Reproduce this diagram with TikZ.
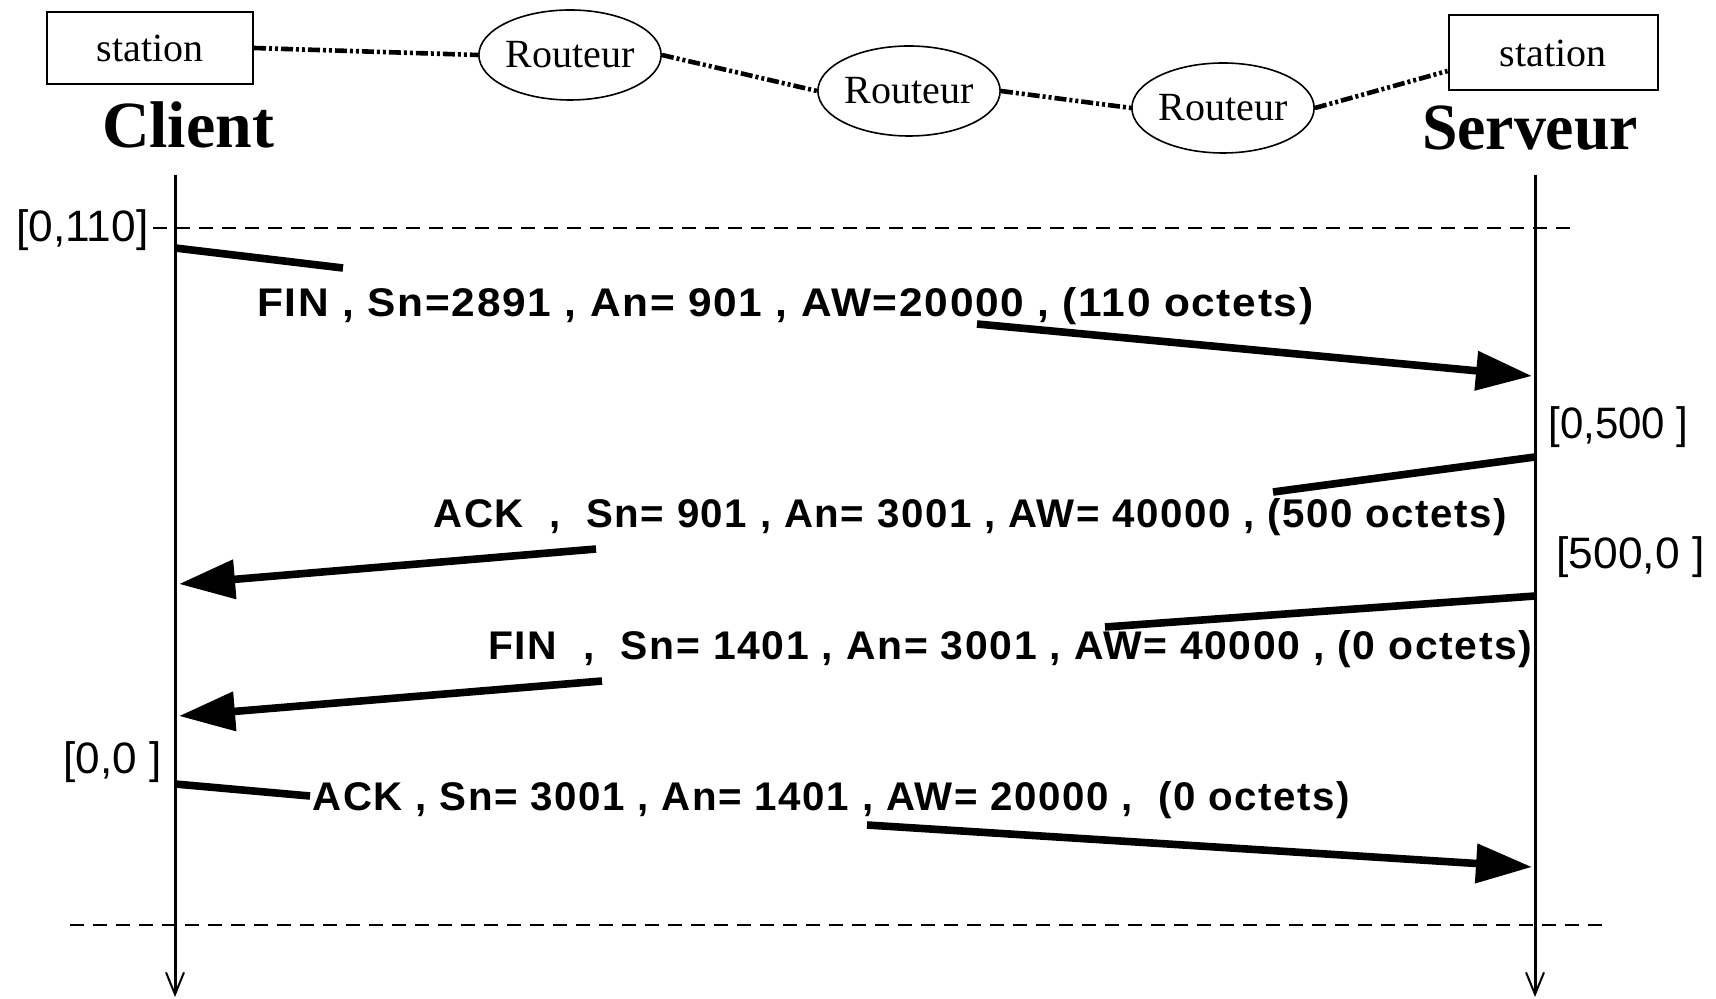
\documentclass[tikz,border=0pt]{standalone}
\usepackage{fontspec}
\usepackage{graphicx}
\setmainfont{Liberation Serif}
\newfontfamily\msgfont[LetterSpace=4]{Liberation Sans}
\newfontfamily\tagfont{Liberation Sans}
\usetikzlibrary{shapes.geometric,arrows.meta,calc}

% set #2 stretched horizontally to a width of #1 pt
\newsavebox\fitbox
\makeatletter
\newcommand\fitw[2]{\sbox\fitbox{#2}%
  \scalebox{\strip@pt\dimexpr 1pt*\number\dimexpr#1pt\relax/\number\wd\fitbox\relax}[1]{\usebox\fitbox}}
\makeatother

\begin{document}
\begin{tikzpicture}[x=0.5pt,y=-0.5pt,
  stationbox/.style={draw,line width=1pt,inner sep=0pt,font=\fontsize{20}{22}\selectfont},
  router/.style={draw,ellipse,line width=0.8pt,inner sep=0pt,minimum width=91pt,minimum height=45pt,font=\fontsize{20}{22}\selectfont},
  party/.style={inner sep=0pt,anchor=base,font=\fontsize{33}{36}\selectfont\bfseries},
  link/.style={line width=2.3pt,dash pattern=on 6pt off 1.5pt on 1.5pt off 1.5pt on 1.5pt off 1.5pt},
  lifeline/.style={line width=1.5pt,-{Straight Barb[length=11pt,width=9pt,line width=1pt]}},
  sepline/.style={line width=1.1pt,dash pattern=on 7pt off 4.5pt},
  msgline/.style={line width=3.8pt},
  msgtip/.style={msgline,-{Triangle[length=28pt,width=19pt]}},
  msglabel/.style={inner sep=0pt,anchor=base west,font=\msgfont\bfseries\fontsize{20}{22}\selectfont},
  tag/.style={inner sep=0pt,anchor=base west,font=\tagfont\fontsize{22}{24}\selectfont}]

\useasboundingbox (0,0) rectangle (1716,999);

% network between the two hosts
\node[stationbox,minimum width=103pt,minimum height=36pt] (stL) at (150,48) {station};
\node[stationbox,minimum width=104.5pt,minimum height=37.5pt] (stR) at (1553,53) {station};
\node[router] (r1) at (570,55) {Routeur};
\node[router] (r2) at (909,91) {Routeur};
\node[router] (r3) at (1223,108) {Routeur};
\draw[link] (stL.east) -- (r1.west);
\draw[link] (r1.east) -- (r2.west);
\draw[link] (r2.east) -- (r3.west);
\draw[link] (r3.east) -- ($(stR.west)+(0,18)$);

% the two ends of the connection
\node[party] (client) at (188,148) {\fitw{86}{Client}};
\node[party] (serveur) at (1530,150) {\fitw{108}{Serveur}};

% time axes
\coordinate (cTop) at (175,175);
\coordinate (cBot) at (175,997);
\coordinate (sTop) at (1535,175);
\coordinate (sBot) at (1535,997);
\draw[lifeline] (cTop) -- (cBot);
\draw[lifeline] (sTop) -- (sBot);

% start and end of the closing sequence
\coordinate (sepAa) at (153,228);
\coordinate (sepAb) at (1576,228);
\coordinate (sepBa) at (70,925);
\coordinate (sepBb) at (1609,925);
\draw[sepline] (sepAa) -- (sepAb);
\draw[sepline] (sepBa) -- (sepBb);

% segments exchanged: each arrow is broken where its label sits
\coordinate (m1a) at (175,248);  \coordinate (m1p) at (343,268);
\coordinate (m1q) at (977,324);  \coordinate (m1b) at (1532,376);
\coordinate (m2a) at (1535,457); \coordinate (m2p) at (1273,492);
\coordinate (m2q) at (596,549);  \coordinate (m2b) at (179,584);
\coordinate (m3a) at (1535,596); \coordinate (m3p) at (1105,627);
\coordinate (m3q) at (602,681);  \coordinate (m3b) at (179,716);
\coordinate (m4a) at (175,784);  \coordinate (m4p) at (310,796);
\coordinate (m4q) at (867,825);  \coordinate (m4b) at (1532,867);

\draw[msgline] (m1a) -- (m1p);
\draw[msgtip] (m1q) -- (m1b);
\draw[msgline] (m2a) -- (m2p);
\draw[msgtip] (m2q) -- (m2b);
\draw[msgline] (m3a) -- (m3p);
\draw[msgtip] (m3q) -- (m3b);
\draw[msgline] (m4a) -- (m4p);
\draw[msgtip] (m4q) -- (m4b);

\node[msglabel] (l1) at (257,317) {\fitw{528}{FIN , Sn=2891 , An= 901 , AW=20000 , (110 octets)}};
\node[msglabel] (l2) at (433,527) {\fitw{537}{ACK~~,~~Sn= 901 , An= 3001 , AW= 40000 , (500 octets)}};
\node[msglabel] (l3) at (488,659) {\fitw{522}{FIN~~,~~Sn= 1401 , An= 3001 , AW= 40000 , (0 octets)}};
\node[msglabel] (l4) at (312,810) {\fitw{519}{ACK , Sn= 3001 , An= 1401 , AW= 20000 ,~~(0 octets)}};

% window states
\node[tag] (t1) at (16,242) {\fitw{66}{[0,110]}};
\node[tag] (t2) at (1548,438) {\fitw{70}{[0,500 ]}};
\node[tag] (t3) at (1556,568) {\fitw{74}{[500,0 ]}};
\node[tag] (t4) at (63,773) {\fitw{49}{[0,0 ]}};
\end{tikzpicture}
\end{document}
